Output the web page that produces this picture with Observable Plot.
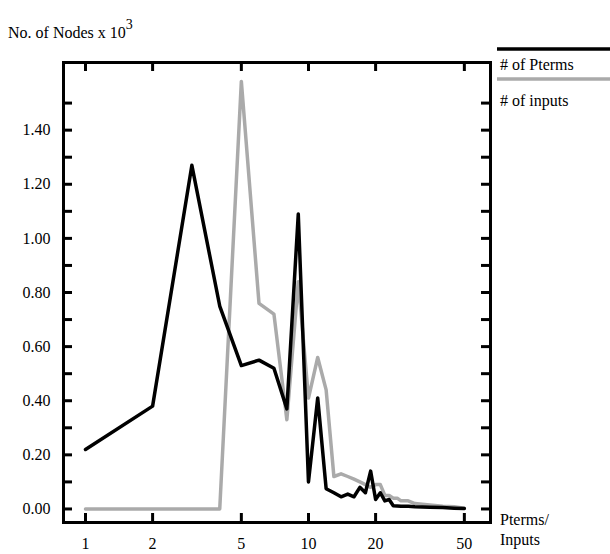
<!DOCTYPE html>
<html><head>
<script src="https://cdn.jsdelivr.net/npm/d3@7"></script>
<script src="https://cdn.jsdelivr.net/npm/@observablehq/plot@0.6"></script>
<style>body{margin:0;background:#fff}svg{font-family:"Liberation Serif",serif}</style>
</head><body><div id="c"></div>
<script>
const pX = [1,2,3,4,5,6,7,8,9,10,11,12,13,14,15,16,17,18,19,20,21,22,23,24,26,28,30,35,40,45,50];
const pY = [0.22,0.38,1.27,0.75,0.53,0.55,0.52,0.37,1.09,0.10,0.41,0.075,0.06,0.045,0.055,0.045,0.08,0.06,0.14,0.035,0.06,0.03,0.035,0.012,0.01,0.01,0.008,0.006,0.005,0.003,0.002];
const iX = [1,2,3,4,5,6,7,8,9,10,11,12,13,14,15,16,17,18,19,20,21,22,23,24,25,26,28,30,35,40,45,50];
const iY = [0,0,0,0,1.58,0.76,0.72,0.33,0.84,0.41,0.56,0.44,0.12,0.13,0.12,0.11,0.10,0.09,0.08,0.09,0.09,0.05,0.05,0.04,0.04,0.03,0.03,0.02,0.015,0.01,0.008,0.003];
const xTicks = [1,2,5,10,20,50];
const yTicks = [0,0.2,0.4,0.6,0.8,1.0,1.2,1.4];
const yMinor = d3.range(0,16).map(i=>i/10);

const xd=[0.797,65.5], yd=[-0.05,1.65];
const W=610,H=554,mL=63,mR=120,mT=62,mB=32;
const tl=9;
const pxPerDecade=(W-mL-mR)/Math.log10(xd[1]/xd[0]);
const pxPerUnit=(H-mT-mB)/(yd[1]-yd[0]);
const xf=Math.pow(10,tl/pxPerDecade), yl=tl/pxPerUnit;

const data=[...pX.map((x,i)=>({x,y:pY[i],s:"p"})),...iX.map((x,i)=>({x,y:iY[i],s:"i"}))];
const chart=Plot.plot({
  width:W,height:H,marginLeft:mL,marginRight:mR,marginTop:mT,marginBottom:mB,
  x:{type:"log",domain:xd,label:null,axis:null},y:{domain:yd,label:null,axis:null},
  style:{fontFamily:"Liberation Serif",fontSize:"16px"},
  marks:[
    Plot.line(data.filter(d=>d.s==="i"),{x:"x",y:"y",stroke:"#aaa",strokeWidth:3.5}),
    Plot.line(data.filter(d=>d.s==="p"),{x:"x",y:"y",stroke:"#000",strokeWidth:3.5}),
    Plot.ruleX(xTicks,{x:d=>d,y1:yd[0],y2:yd[0]+yl,strokeWidth:3}),
    Plot.ruleX(xTicks,{x:d=>d,y1:yd[1],y2:yd[1]-yl,strokeWidth:3}),
    Plot.ruleY(yMinor,{y:d=>d,x1:xd[0],x2:xd[0]*xf,strokeWidth:3}),
    Plot.ruleY(yMinor,{y:d=>d,x1:xd[1],x2:xd[1]/xf,strokeWidth:3}),
    Plot.frame({strokeWidth:3}),
    Plot.text(xTicks,{x:d=>d,y:yd[0],text:d=>String(d),dy:21,fontSize:16}),
    Plot.text(yTicks,{y:d=>d,x:xd[0],text:d=>d.toFixed(2),dx:-13,textAnchor:"end",fontSize:16})
  ]
});
document.getElementById("c").appendChild(chart);
const s=d3.select(chart);
const g=s.append("g").attr("text-anchor","start").attr("font-size",16);
const t=g.append("text").attr("x",8).attr("y",38).text("No. of Nodes x 10");
t.append("tspan").attr("dy",-9).attr("font-size",14).text("3");
s.append("line").attr("x1",497).attr("x2",610).attr("y1",49).attr("y2",49).attr("stroke","#000").attr("stroke-width",3.5);
g.append("text").attr("x",500).attr("y",70).text("# of Pterms");
s.append("line").attr("x1",497).attr("x2",610).attr("y1",79).attr("y2",79).attr("stroke","#aaa").attr("stroke-width",3.5);
g.append("text").attr("x",500).attr("y",106).text("# of inputs");
g.append("text").attr("x",500).attr("y",525).text("Pterms/");
g.append("text").attr("x",500).attr("y",545).text("Inputs");
</script></body></html>
